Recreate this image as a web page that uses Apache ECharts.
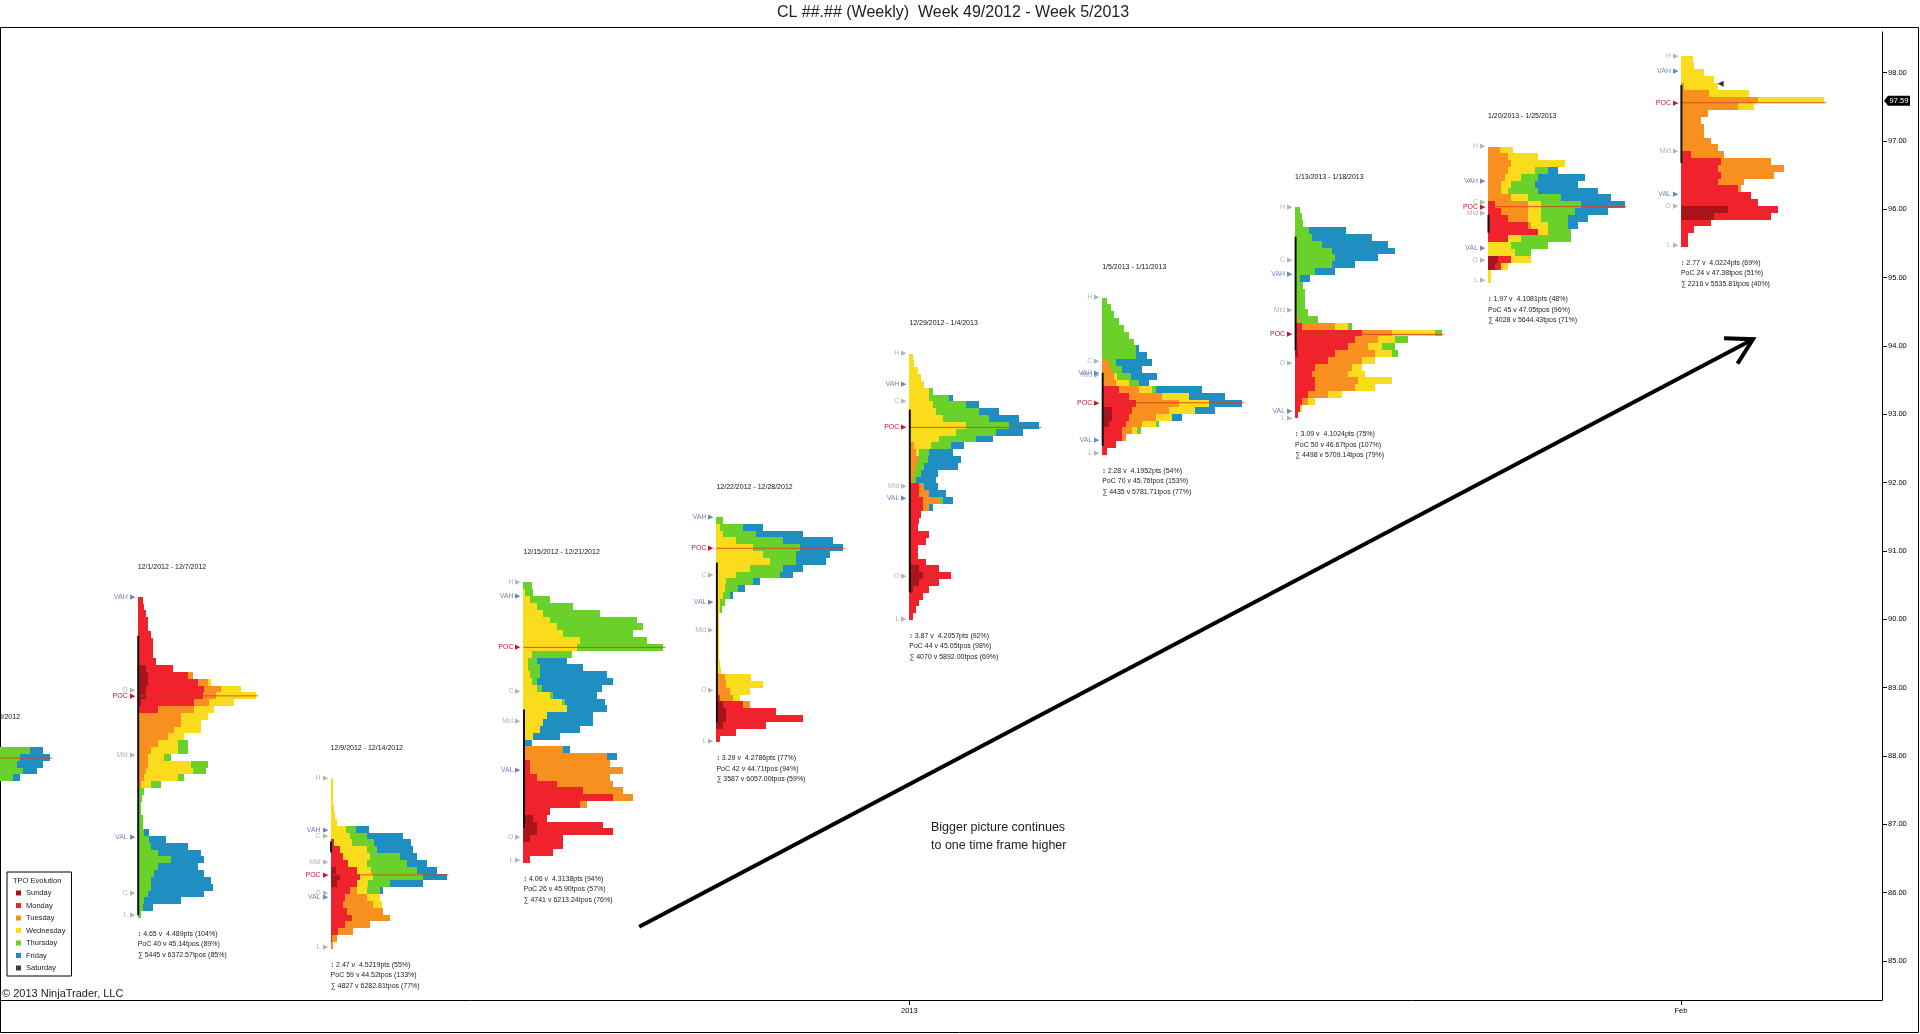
<!DOCTYPE html>
<html>
<head>
<meta charset="utf-8">
<title>CL Weekly TPO</title>
<script src="https://cdn.jsdelivr.net/npm/echarts@6/dist/echarts.min.js"></script>
<style>
  html, body { margin: 0; padding: 0; background: #fff; }
  #chart { width: 1920px; height: 1034px; }
</style>
</head>
<body>
<div id="chart"></div>
<script>
// ---- data ----
var dayNames = ['Sunday', 'Monday', 'Tuesday', 'Wednesday', 'Thursday', 'Friday', 'Saturday'];
var dayColors = ['#a8141c', '#f0222b', '#f7901e', '#fbdc1c', '#6ad12b', '#1f8fc1', '#404040'];

// week slot on the x axis (equidistant weekly bars)
var weekIdx = [0, 1, 2, 3, 4, 5, 6, 7, 8, 9];
var weekTitles = ['11/25/2012 - 11/30/2012', '12/1/2012 - 12/7/2012', '12/9/2012 - 12/14/2012',
  '12/15/2012 - 12/21/2012', '12/22/2012 - 12/28/2012', '12/29/2012 - 1/4/2013',
  '1/5/2013 - 1/11/2013', '1/13/2013 - 1/18/2013', '1/20/2013 - 1/25/2013', ''];
var weekHigh = [88.13, 90.33, 87.68, 90.54, 91.50, 93.89, 94.71, 96.04, 96.92, 98.25];
var rowStep = 0.1;      // price height of a profile row
var unitsPerWeek = 579; // profile width units per weekly slot

// profile rows, top down, per day: [sun, mon, tue, wed, thu, fri]
var rows0 = [[0,40,50,76,90,40],[0,40,50,76,60,90],[0,40,50,76,50,80],[0,40,50,76,70,40],[0,40,50,76,40,20]];
var rows1 = [
  [0,15,0,0,0,0],[0,20,0,0,0,0],[0,25,0,0,0,0],[0,30,0,0,0,0],[0,30,0,0,0,0],[0,40,0,0,0,0],
  [0,45,0,0,0,0],[0,45,0,0,0,0],[0,45,0,0,0,0],[0,55,0,0,0,0],[25,80,0,0,0,0],[30,120,15,0,0,0],
  [30,150,30,10,0,0],[25,175,50,60,0,0],[25,170,40,120,0,0],[10,160,45,75,0,0],[0,60,110,60,0,0],
  [0,0,130,80,0,0],[0,0,130,60,0,0],[0,0,110,80,0,0],[0,0,90,50,0,0],[0,0,60,60,30,0],
  [0,0,40,80,30,0],[0,0,30,50,20,0],[0,0,30,130,50,0],[0,0,25,140,40,0],[0,0,20,100,20,0],
  [0,0,10,30,30,0],[0,0,0,0,20,0],[0,0,0,0,12,0],[0,0,0,0,10,0],[0,0,0,0,10,0],[0,0,0,0,15,0],
  [0,0,0,0,15,0],[0,0,0,0,20,15],[0,0,0,0,35,50],[0,0,0,0,40,110],[0,0,0,0,60,130],
  [0,0,0,0,100,100],[0,0,0,0,60,120],[0,0,0,0,50,150],[0,0,0,0,40,180],[0,0,0,0,40,185],
  [0,0,0,0,30,170],[0,0,0,0,20,110],[0,0,0,0,15,30],[0,0,0,0,10,0]];
var rows2 = [
  [0,0,0,8,0,0],[0,0,0,8,0,0],[0,0,0,8,0,0],[0,0,0,8,0,0],[0,0,0,10,0,0],[0,0,0,12,0,0],
  [0,0,0,18,0,0],[0,0,0,45,30,40],[0,0,0,58,50,110],[0,10,0,55,65,110],[0,28,0,80,30,110],
  [0,38,0,80,90,50],[0,53,0,55,120,60],[15,65,0,40,140,60],[28,60,0,40,150,70],
  [20,58,0,35,65,100],[0,58,20,30,40,10],[0,43,65,40,0,0],[0,38,90,25,0,0],[0,48,110,0,0,0],
  [0,63,115,0,0,0],[0,43,75,0,0,0],[0,23,45,0,0,0],[0,5,15,0,0,0],[0,0,8,0,0,0]];
var rows3 = [
  [0,0,0,0,25,0],[0,0,0,5,25,0],[0,0,0,20,60,0],[0,0,0,40,110,0],[0,0,0,60,170,0],
  [0,0,0,80,260,0],[0,0,0,100,260,0],[0,0,0,120,210,0],[0,0,0,170,200,0],[0,0,0,160,260,0],
  [0,0,0,25,120,0],[0,0,0,15,25,90],[0,0,0,15,35,130],[0,0,0,20,30,200],[0,0,0,25,15,230],
  [0,0,0,40,15,180],[0,0,0,80,10,130],[0,0,0,115,10,120],[0,0,0,130,0,120],[0,0,0,70,0,140],
  [0,0,0,60,0,150],[0,0,0,50,0,120],[0,0,0,30,0,80],[0,0,0,0,0,25],[0,0,120,0,0,20],
  [0,0,250,0,0,30],[0,20,240,0,0,0],[0,20,280,0,0,0],[0,40,220,0,0,0],[0,100,170,0,0,0],
  [0,180,120,0,0,0],[0,270,60,0,0,0],[0,170,20,0,0,0],[0,80,0,0,0,0],[30,40,0,0,0,0],
  [40,200,0,0,0,0],[40,230,0,0,0,0],[20,100,0,0,0,0],[0,120,0,0,0,0],[0,90,0,0,0,0],[0,20,0,0,0,0]];
var rows4 = [
  [0,0,0,0,20,0],[0,0,0,10,70,60],[0,0,0,20,100,140],[0,0,0,60,140,150],[0,0,0,110,140,130],
  [0,0,0,140,100,100],[0,0,0,160,80,90],[0,0,0,100,100,60],[0,0,0,60,130,40],[0,0,0,30,80,20],
  [0,0,0,25,40,20],[0,0,0,20,20,10],[0,0,0,10,15,0],[0,0,0,10,8,0],[0,0,0,8,0,0],[0,0,0,8,0,0],
  [0,0,0,8,0,0],[0,0,0,8,0,0],[0,0,0,8,0,0],[0,0,0,8,0,0],[0,0,0,8,0,0],[0,0,0,12,0,0],
  [0,0,0,15,0,0],[0,0,25,80,0,0],[0,0,30,110,0,0],[0,0,40,60,0,0],[0,10,40,20,0,0],
  [20,60,20,0,0,0],[30,150,0,0,0,0],[30,230,0,0,0,0],[20,130,0,0,0,0],[0,60,0,0,0,0],[0,10,0,0,0,0]];
var rows5 = [
  [0,0,0,10,0,0],[0,0,0,15,0,0],[0,0,0,25,0,0],[0,0,0,35,0,0],[0,0,0,45,0,0],[0,0,0,60,10,0],
  [0,0,0,60,60,10],[0,0,0,70,100,40],[0,0,0,80,130,60],[0,0,0,100,140,90],[0,0,0,170,130,90],
  [0,0,0,140,120,80],[0,0,0,90,110,50],[0,0,15,50,60,40],[0,0,20,10,30,70],[0,0,25,0,30,100],
  [0,0,20,0,25,100],[0,0,15,0,20,50],[0,0,10,0,10,60],[0,30,10,0,5,40],[0,30,30,0,0,50],
  [0,40,50,0,10,30],[0,40,20,0,0,10],[0,35,0,0,0,0],[0,30,0,0,0,0],[0,25,0,0,0,0],[0,60,0,0,0,0],
  [0,50,0,0,0,0],[0,25,0,0,0,0],[0,25,0,0,0,0],[0,50,0,0,0,0],[30,60,0,0,0,0],[40,85,0,0,0,0],
  [30,60,0,0,0,0],[10,50,0,0,0,0],[0,40,0,0,0,0],[0,30,0,0,0,0],[0,20,0,0,0,0],[0,10,0,0,0,0]];
var rows6 = [
  [0,0,0,0,15,0],[0,0,0,0,25,0],[0,0,0,0,35,0],[0,0,0,0,50,0],[0,0,0,0,65,0],[0,0,0,0,80,0],
  [0,0,0,0,95,0],[0,0,0,0,100,10],[0,0,0,0,100,35],[0,0,20,0,20,110],[0,0,30,0,30,60],
  [0,0,35,10,40,80],[0,0,40,40,30,30],[0,50,60,40,10,140],[0,80,100,80,0,110],
  [0,100,130,90,0,100],[30,60,110,80,0,60],[30,50,80,50,0,30],[20,50,50,40,10,0],
  [0,60,30,15,10,0],[0,60,10,0,0,0],[0,40,0,0,0,0],[0,15,0,0,0,0]];
var rows7 = [
  [0,0,0,0,15,0],[0,0,0,0,20,0],[0,0,0,0,25,0],[0,0,0,0,42,110],[0,0,0,0,50,180],
  [0,0,0,0,80,200],[0,0,0,0,110,190],[0,0,0,0,120,130],[0,0,0,0,110,70],[0,0,0,0,60,60],
  [0,0,0,0,15,30],[0,0,0,0,25,0],[0,0,0,0,30,0],[0,0,0,0,30,0],[0,0,0,0,30,0],[0,0,0,0,40,0],
  [0,0,10,0,60,0],[0,20,100,40,10,0],[0,200,90,130,20,0],[0,180,70,50,40,0],[0,160,60,40,40,0],
  [10,110,120,50,20,0],[0,100,100,40,0,0],[0,60,110,30,0,0],[0,50,110,50,0,0],
  [0,60,130,100,0,0],[0,60,120,60,0,0],[0,40,60,40,0,0],[0,20,20,20,0,0],[0,15,0,5,0,0],[0,10,0,0,0,0]];
var rows8 = [
  [0,0,35,40,0,0],[0,0,60,90,0,0],[0,0,70,160,0,0],[0,0,60,80,40,30],[0,0,50,50,50,140],
  [0,0,40,30,70,130],[0,0,40,20,90,180],[0,0,70,50,100,150],[0,20,100,40,120,130],
  [0,40,80,40,100,100],[0,60,60,40,80,60],[0,120,10,50,60,30],[0,150,0,30,70,0],
  [0,60,0,40,150,0],[0,0,0,70,110,0],[0,0,0,80,50,0],[30,40,0,60,0,0],[20,20,0,20,0,0],
  [0,0,0,10,0,0],[0,0,0,8,0,0]];
var rows9 = [
  [0,0,0,35,0,0],[0,0,0,40,0,0],[0,0,0,70,0,0],[0,0,0,100,0,0],[0,0,10,100,0,0],
  [0,0,85,120,0,0],[0,0,230,200,0,0],[0,0,170,50,0,0],[0,0,80,0,0,0],[0,0,60,0,0,0],
  [0,0,70,0,0,0],[0,0,70,0,0,0],[0,0,90,0,0,0],[0,0,110,0,0,0],[0,30,100,0,0,0],
  [0,120,150,0,0,0],[0,110,200,0,0,0],[0,120,160,0,0,0],[0,110,80,0,0,0],[0,170,10,0,0,0],
  [0,210,0,0,0,0],[0,230,0,0,0,0],[140,150,0,0,0,0],[100,170,0,0,0,0],[0,90,0,0,0,0],
  [0,40,0,0,0,0],[0,20,0,0,0,0],[0,20,0,0,0,0]];
var profileRows = [rows0, rows1, rows2, rows3, rows4, rows5, rows6, rows7, rows8, rows9];

// reference levels per week (null = not shown)
var levelH   = [null, null, 87.68, 90.54, null, 93.89, 94.71, 96.04, 96.93, 98.25];
var levelVAH = [null, 90.33, 86.91, 90.34, 91.49, 93.44, 93.60, 95.06, 96.41, 98.03];
var levelPOC = [87.97, 88.88, 86.26, 89.59, 91.04, 92.81, 93.17, 94.17, 96.04, 97.56];
var levelMid = [null, 88.02, 86.45, 88.51, 89.85, 91.95, 93.57, 94.52, 95.94, 96.86];
var levelVAL = [null, 86.82, 85.94, 87.80, 90.26, 91.77, 92.63, 93.05, 95.43, 96.23];
var levelO   = [null, 88.96, 86.00, 86.82, 88.96, 90.63, null, 93.75, 95.26, 96.05];
var levelC   = [null, 85.99, 86.83, 88.95, 90.65, 93.20, 93.78, 95.26, 96.11, null];
var levelL   = [null, 85.67, 85.21, 86.48, 88.22, 90.01, 92.43, 92.95, 94.96, 95.48];
// initial balance (black bar on the profile spine)
var ibHigh = [null, 89.76, 86.75, 88.68, 90.83, 93.07, 93.61, 95.60, 95.92, 97.82];
var ibLow  = [null, 85.67, 86.59, 86.95, 88.49, 90.40, 92.54, 93.94, 95.66, 96.68];

var statRange = ['', '\u2195 4.65 v  4.489pts (104%)', '\u2195 2.47 v  4.5219pts (55%)', '\u2195 4.06 v  4.3138pts (94%)',
  '\u2195 3.29 v  4.2786pts (77%)', '\u2195 3.87 v  4.2057pts (92%)', '\u2195 2.28 v  4.1952pts (54%)',
  '\u2195 3.09 v  4.1024pts (75%)', '\u2195 1.97 v  4.1081pts (48%)', '\u2195 2.77 v  4.0224pts (69%)'];
var statPoc = ['', 'PoC 40 v 45.14tpos (89%)', 'PoC 59 v 44.52tpos (133%)', 'PoC 26 v 45.90tpos (57%)',
  'PoC 42 v 44.71tpos (94%)', 'PoC 44 v 45.05tpos (98%)', 'PoC 70 v 45.76tpos (153%)',
  'PoC 50 v 46.67tpos (107%)', 'PoC 45 v 47.05tpos (96%)', 'PoC 24 v 47.38tpos (51%)'];
var statSum = ['', '\u2211 5445 v 6372.57tpos (85%)', '\u2211 4827 v 6282.81tpos (77%)', '\u2211 4741 v 6213.24tpos (76%)',
  '\u2211 3587 v 6057.00tpos (59%)', '\u2211 4070 v 5892.00tpos (69%)', '\u2211 4435 v 5781.71tpos (77%)',
  '\u2211 4498 v 5709.14tpos (79%)', '\u2211 4028 v 5644.43tpos (71%)', '\u2211 2216 v 5535.81tpos (40%)'];

var priceTicks = [85, 86, 87, 88, 89, 90, 91, 92, 93, 94, 95, 96, 97, 98];
var xLabelWeeks = [5, 9];
var xLabelText = ['2013', 'Feb'];
var lastPrice = 97.59;
var lastMarker = [9.206, 97.84];
var arrowFrom = [3.6, 85.5];
var arrowTo = [9.374, 94.1];

// ---- helpers ----
var FONT = '"Liberation Sans", Arial, sans-serif';
var levelKinds = [
  { name: 'H', values: levelH, color: '#b4b4b4' },
  { name: 'L', values: levelL, color: '#b4b4b4' },
  { name: 'O', values: levelO, color: '#b4b4b4' },
  { name: 'C', values: levelC, color: '#b4b4b4' },
  { name: 'Mid', values: levelMid, color: '#b4b4b4' },
  { name: 'VAH', values: levelVAH, color: '#6f86bf' },
  { name: 'VAL', values: levelVAL, color: '#6f86bf' },
  { name: 'POC', values: levelPOC, color: '#d0102a' }
];

function weekLow(p) {
  return weekHigh[p] - profileRows[p].length * rowStep;
}

function maxWidth(p) {
  var m = 0;
  profileRows[p].forEach(function (r) {
    var s = r.reduce(function (a, b) { return a + b; }, 0);
    if (s > m) m = s;
  });
  return m;
}

function buildDay(d) {
  var out = [];
  profileRows.forEach(function (rows, p) {
    rows.forEach(function (r, i) {
      var w = r[d] || 0;
      if (!w) return;
      var left = 0;
      for (var k = 0; k < d; k++) left += r[k];
      out.push([
        weekIdx[p] + left / unitsPerWeek,
        weekIdx[p] + (left + w) / unitsPerWeek,
        weekHigh[p] - i * rowStep,
        weekHigh[p] - (i + 1) * rowStep
      ]);
    });
  });
  return out;
}

function gridRect(params) {
  var cs = params.coordSys;
  return { x: cs.x, y: cs.y, width: cs.width, height: cs.height };
}

function renderBar(params, api) {
  var a = api.coord([api.value(0), api.value(2)]);
  var b = api.coord([api.value(1), api.value(3)]);
  var x0 = Math.round(a[0]), x1 = Math.round(b[0]);
  var y0 = Math.round(a[1]), y1 = Math.round(b[1]);
  var rect = echarts.graphic.clipRectByRect(
    { x: x0, y: y0, width: Math.max(x1 - x0, 1), height: y1 - y0 }, gridRect(params));
  return rect && { type: 'rect', shape: rect, style: { fill: api.visual('color') } };
}

function renderLevel(params, api) {
  var c = api.coord([api.value(0), api.value(1)]);
  var k = levelKinds[api.value(2)];
  if (c[0] < 20) return;
  return {
    type: 'text', x: c[0] - 3, y: c[1],
    style: { text: k.name + ' \u25B6', fill: k.color, align: 'right', verticalAlign: 'middle', font: '7px ' + FONT }
  };
}

function renderSpine(params, api) {
  var p = api.value(0);
  var top = api.coord([weekIdx[p], ibHigh[p]]);
  var bot = api.coord([weekIdx[p], ibLow[p]]);
  var poc0 = api.coord([weekIdx[p], levelPOC[p]]);
  var poc1 = api.coord([weekIdx[p] + (maxWidth(p) + 6) / unitsPerWeek, levelPOC[p]]);
  var kids = [{
    type: 'line', shape: { x1: poc0[0], y1: poc0[1], x2: poc1[0], y2: poc1[1] },
    style: { stroke: '#d8401e', lineWidth: 1, opacity: 0.85 }
  }];
  if (ibHigh[p] != null) {
    kids.push({
      type: 'line', shape: { x1: top[0] + 0.5, y1: top[1], x2: bot[0] + 0.5, y2: bot[1] },
      style: { stroke: '#111', lineWidth: 2 }
    });
  }
  return { type: 'group', children: kids };
}

function renderNotes(params, api) {
  var p = api.value(0);
  var top = api.coord([weekIdx[p], weekHigh[p]]);
  var bot = api.coord([weekIdx[p], weekLow(p)]);
  var kids = [];
  if (weekTitles[p]) {
    kids.push({ type: 'text', x: top[0], y: top[1] - 30,
      style: { text: weekTitles[p], fill: '#111', verticalAlign: 'middle', font: '7px ' + FONT } });
  }
  [statRange[p], statPoc[p], statSum[p]].forEach(function (t, j) {
    if (!t) return;
    kids.push({ type: 'text', x: bot[0], y: bot[1] + 16 + j * 10.5,
      style: { text: t, fill: '#222', verticalAlign: 'middle', font: '7px ' + FONT } });
  });
  return { type: 'group', children: kids };
}

function renderArrow(params, api) {
  var a = api.coord([api.value(0), api.value(1)]);
  var b = api.coord([api.value(2), api.value(3)]);
  var ang = Math.atan2(a[1] - b[1], a[0] - b[0]);
  var len = 29, spread = 0.52;
  var h1 = [b[0] + len * Math.cos(ang + spread), b[1] + len * Math.sin(ang + spread)];
  var h2 = [b[0] + len * Math.cos(ang - spread), b[1] + len * Math.sin(ang - spread)];
  return { type: 'group', children: [
    { type: 'line', shape: { x1: a[0], y1: a[1], x2: b[0], y2: b[1] }, style: { stroke: '#000', lineWidth: 4 } },
    { type: 'polyline', shape: { points: [h1, b, h2] }, style: { stroke: '#000', lineWidth: 4, fill: null } }
  ] };
}

// last price tag on the price axis
function renderLastTag(params, api) {
  var c = api.coord([api.value(0), api.value(1)]);
  var right = params.coordSys.x + params.coordSys.width;
  return { type: 'group', children: [
    { type: 'polygon', shape: { points: [[right + 2, c[1]], [right + 6, c[1] - 5], [right + 28, c[1] - 5],
        [right + 28, c[1] + 5], [right + 6, c[1] + 5]] }, style: { fill: '#000' } },
    { type: 'text', x: right + 17, y: c[1],
      style: { text: api.value(1).toFixed(2), fill: '#fff', align: 'center', verticalAlign: 'middle', font: '7.5px ' + FONT } }
  ] };
}

// ---- series ----
var series = dayNames.map(function (name, d) {
  return {
    type: 'custom', name: name, renderItem: renderBar, silent: true,
    itemStyle: { color: dayColors[d] },
    encode: { x: [0, 1], y: [2, 3] },
    data: d < 6 ? buildDay(d) : []
  };
});

var spineData = [], levelData = [];
weekIdx.forEach(function (w, p) {
  spineData.push([p]);
  levelKinds.forEach(function (k, ki) {
    if (k.values[p] != null) levelData.push([w, k.values[p], ki]);
  });
});

series.push({
  type: 'custom', name: 'spine', renderItem: renderSpine, silent: true, z: 3,
  data: spineData, encode: { x: -1, y: -1 }
});
series.push({
  type: 'custom', name: 'levels', renderItem: renderLevel, silent: true,
  data: levelData, encode: { x: 0, y: 1 }
});
series.push({
  type: 'custom', name: 'notes', renderItem: renderNotes, silent: true,
  data: spineData, encode: { x: -1, y: -1 }
});
series.push({
  type: 'custom', name: 'arrow', renderItem: renderArrow, silent: true, z: 5,
  data: [[arrowFrom[0], arrowFrom[1], arrowTo[0], arrowTo[1]]],
  encode: { x: [0, 2], y: [1, 3] }
});
series.push({
  type: 'scatter', name: 'last', silent: true, symbol: 'triangle', symbolSize: 6, symbolRotate: 90,
  itemStyle: { color: '#000' }, data: [lastMarker], z: 6
});
series.push({
  type: 'custom', name: 'lastTag', renderItem: renderLastTag, silent: true, z: 20, clip: false,
  data: [[lastMarker[0], lastPrice]], encode: { x: 0, y: 1 }
});

var chart = echarts.init(document.getElementById('chart'));
chart.setOption({
  animation: false,
  backgroundColor: '#fff',
  grid: { left: 0, right: 38, top: 32, bottom: 34 },
  legend: {
    orient: 'vertical', left: 7, top: 872,
    padding: [17, 6, 4, 9], itemGap: 4.5, itemWidth: 5, itemHeight: 5,
    icon: 'rect', selectedMode: false,
    backgroundColor: '#fff', borderColor: '#000', borderWidth: 1, borderRadius: 0,
    textStyle: { fontSize: 7.5, color: '#222', fontFamily: FONT },
    data: dayNames
  },
  xAxis: {
    type: 'value', min: 0.2862, max: 10.0425,
    axisLine: { show: true, lineStyle: { color: '#000', width: 1 } },
    splitLine: { show: false },
    axisTick: { show: true, customValues: xLabelWeeks, length: 5, lineStyle: { color: '#000' } },
    axisLabel: {
      customValues: xLabelWeeks, margin: 7, fontSize: 7.5, color: '#000', fontFamily: FONT,
      formatter: function (v) {
        var i = xLabelWeeks.indexOf(v);
        return i >= 0 ? xLabelText[i] : '';
      }
    }
  },
  yAxis: {
    type: 'value', position: 'right', min: 84.429, max: 98.596,
    axisLine: { show: true, lineStyle: { color: '#000', width: 1 } },
    splitLine: { show: false },
    axisTick: { show: true, customValues: priceTicks, length: 5, lineStyle: { color: '#000' } },
    axisLabel: {
      customValues: priceTicks, margin: 6, fontSize: 7.5, color: '#000', fontFamily: FONT,
      formatter: function (v) { return v.toFixed(2); }
    }
  },
  graphic: [
    { type: 'rect', z: 0, shape: { x: 0.5, y: 27.5, width: 1918, height: 1005 },
      style: { fill: null, stroke: '#000', lineWidth: 1 } },
    { type: 'text', z: 10, x: 953, y: 13,
      style: { text: 'CL ##.## (Weekly)  Week 49/2012 - Week 5/2013', align: 'center', verticalAlign: 'middle',
        fill: '#222', font: '16px ' + FONT } },
    { type: 'text', z: 100, x: 13, y: 881,
      style: { text: 'TPO Evolution', verticalAlign: 'middle', fill: '#222', font: '7.5px ' + FONT } },
    { type: 'text', z: 10, x: 2, y: 994,
      style: { text: '\u00A9 2013 NinjaTrader, LLC', verticalAlign: 'middle', fill: '#222', font: '11px ' + FONT } },
    { type: 'text', z: 10, x: 931, y: 837,
      style: { text: 'Bigger picture continues\nto one time frame higher', verticalAlign: 'middle',
        lineHeight: 18, fill: '#222', font: '12.5px ' + FONT } }
  ],
  series: series
});
</script>
</body>
</html>
